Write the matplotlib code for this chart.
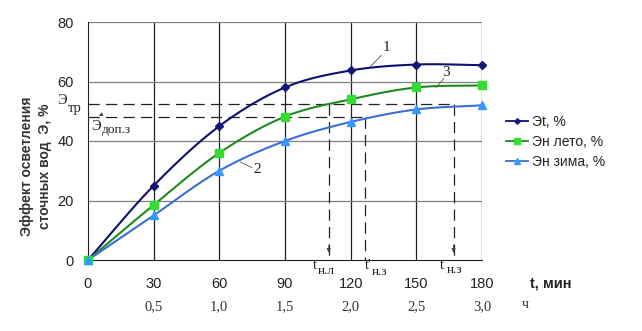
import numpy as np
import matplotlib
matplotlib.use("Agg")
import matplotlib.pyplot as plt

t_min = [0, 30, 60, 90, 120, 150, 180]
t_hours = ["0,5", "1,0", "1,5", "2,0", "2,5", "3,0"]
e_t = [0, 25, 45, 58, 63.7, 65.7, 65.5]
e_summer = [0, 18.5, 36, 48.2, 54, 58, 58.7]
e_winter = [0, 15, 30, 40, 46.4, 50.6, 52]
series_names = ["Эt, %", "Эн лето, %", "Эн зима, %"]
e_req = 52.4
e_dop = 48
t_nl = 110
t_nz1 = 126.5
t_nz = 167

plt.rcParams['font.family'] = ['Liberation Sans', 'DejaVu Sans']
SERIF = ['Liberation Serif', 'DejaVu Serif']

def smooth(x, y, n=20):
    # Catmull-Rom style display smoothing (like Excel smoothed lines)
    x = np.asarray(x, float); y = np.asarray(y, float)
    P = np.column_stack([x, y])
    P = np.vstack([P[0] - (P[1] - P[0]), P, P[-1] + (P[-1] - P[-2])])
    out = []
    for i in range(1, len(P) - 2):
        p0, p1, p2, p3 = P[i - 1], P[i], P[i + 1], P[i + 2]
        s = np.linspace(0, 1, n, endpoint=False)[:, None]
        c = 0.5 * ((2 * p1) + (-p0 + p2) * s + (2 * p0 - 5 * p1 + 4 * p2 - p3) * s**2
                   + (-p0 + 3 * p1 - 3 * p2 + p3) * s**3)
        out.append(c)
    out.append(P[-2][None, :])
    c = np.vstack(out)
    return c[:, 0], c[:, 1]

fig = plt.figure(figsize=(6.42, 3.31), dpi=100)
ax = fig.add_axes([88/642, 1-260/331, (482-88)/642, (260-22)/331])
ax.set_xlim(0, 180)
ax.set_ylim(0, 80)

# grid
for v in t_min[1:]:
    ax.axvline(v, color='#202020', lw=0.9, zorder=1)
for h in [20, 40, 60, 80]:
    ax.axhline(h, color='#7f7f7f', lw=0.9, zorder=1)
for s in ['top', 'right']:
    ax.spines[s].set_visible(False)
ax.spines['left'].set_color('#202020')
ax.spines['bottom'].set_color('#202020')

# dashed reference lines
dash = dict(color='#222222', lw=0.9, ls=(0, (9, 5)), zorder=2)
ax.plot([0, t_nz], [e_req, e_req], **dash)
ax.plot([0, t_nz1], [e_dop, e_dop], **dash)
ax.plot([t_nl, t_nl], [e_req, 0], **dash)
ax.plot([t_nz1, t_nz1], [e_dop, 0], **dash)
ax.plot([t_nz, t_nz], [e_req, 0], **dash)
for xv in [t_nl, t_nz]:
    ax.annotate('', xy=(xv, 1.5), xytext=(xv, 6),
                arrowprops=dict(arrowstyle='-|>', color='#444444', lw=0.6,
                                mutation_scale=6))

colors = ['#0f0f6e', '#1f8a1f', '#3b6fd6']
mcolors = ['#14147a', '#33dd33', '#3399ff']
markers = ['D', 's', '^']
msizes = [4, 5.5, 5.5]
for ys, c, mc, m, ms, name in zip([e_t, e_summer, e_winter], colors, mcolors,
                                   markers, msizes, series_names):
    sx, sy = smooth(t_min, ys)
    ax.plot(sx, sy, color=c, lw=1.5, zorder=3)
    ax.plot(t_min, ys, ls='none', marker=m, ms=ms, color=mc, mec=mc, zorder=4,
            clip_on=False)
    ax.plot([], [], color=c, lw=1.3, marker=m, ms=ms * 0.7, mfc=mc, mec=mc, label=name)

# ticks
ax.set_xticks(t_min)
ax.set_yticks([0, 20, 40, 60, 80])
ax.tick_params(axis='both', length=0, labelsize=10.5, colors='#222222', pad=10)
ax.tick_params(axis='x', pad=12)

# hour labels
for xv, lab in zip(t_min[1:], t_hours):
    ax.text(xv, -0.195, lab, transform=ax.get_xaxis_transform(), ha='center', va='center',
            fontsize=10.5, family=SERIF, color='#333333')
ax.text(525/642, 1-305/331, 'ч', transform=fig.transFigure, ha='center', va='center',
        fontsize=10, family=SERIF, color='#333333')
fig.text(530/642, 1-283/331, 't, мин', ha='left', va='center', fontsize=10.5,
         fontweight='bold', color='#222222')

# y label
fig.text(36/642, 1-166/331, 'Эффект осветления\nсточных вод  Э, %', rotation=90,
         ha='center', va='center', fontsize=10, fontweight='bold', color='#333333',
         linespacing=1.4)

# annotations (serif)
st = dict(family=SERIF, color='#222222')
ax.text(-11.9, 53.6, 'Э', fontsize=10.5, ha='center', va='center', clip_on=False, **st)
ax.text(-9.3, 50.8, 'тр', fontsize=10.5, ha='left', va='center', clip_on=False, **st)
ax.text(3.7, 45.0, 'Э', fontsize=10.5, ha='center', va='center', **st)
ax.text(6.2, 43.6, 'доп.з', fontsize=9.5, ha='left', va='center', **st)
ax.annotate('', xy=(3.8, 48.1), xytext=(7.8, 49.4),
            arrowprops=dict(arrowstyle='-|>', color='#444444', lw=0.6, mutation_scale=5))

ax.text(103.8, -1.8, 't', fontsize=10.5, ha='center', va='center', clip_on=False, **st)
ax.text(105.2, -3.6, 'н.л', fontsize=9.5, ha='left', va='center', clip_on=False, **st)
ax.text(126.3, -1.8, "t'", fontsize=10.5, ha='left', va='center', clip_on=False, **st)
ax.text(129.6, -4.0, 'н.з', fontsize=9.5, ha='left', va='center', clip_on=False, **st)
ax.text(161.8, -1.8, 't', fontsize=10.5, ha='center', va='center', clip_on=False, **st)
ax.text(163.8, -3.3, 'н.з', fontsize=9.5, ha='left', va='center', clip_on=False, **st)

# curve numbers
lab = dict(fontsize=11, ha='center', va='center', **st)
ax.text(136.5, 71.5, '1', **lab)
ax.plot([129, 134], [65.0, 68.8], color='#555555', lw=0.6)
ax.text(163.5, 63.0, '3', **lab)
ax.plot([159, 162.5], [58.0, 61.0], color='#555555', lw=0.6)
ax.text(77.5, 30.5, '2', **lab)
ax.plot([69.5, 75], [33.0, 31.0], color='#555555', lw=0.6)

leg = fig.legend(loc='center left', bbox_to_anchor=(493/642, 1-142/331), frameon=False,
                 fontsize=10, handlelength=1.6, handletextpad=0.3, labelspacing=0.45)
for txt in leg.get_texts():
    txt.set_color('#222222')

fig.savefig('out.png', dpi=100)
